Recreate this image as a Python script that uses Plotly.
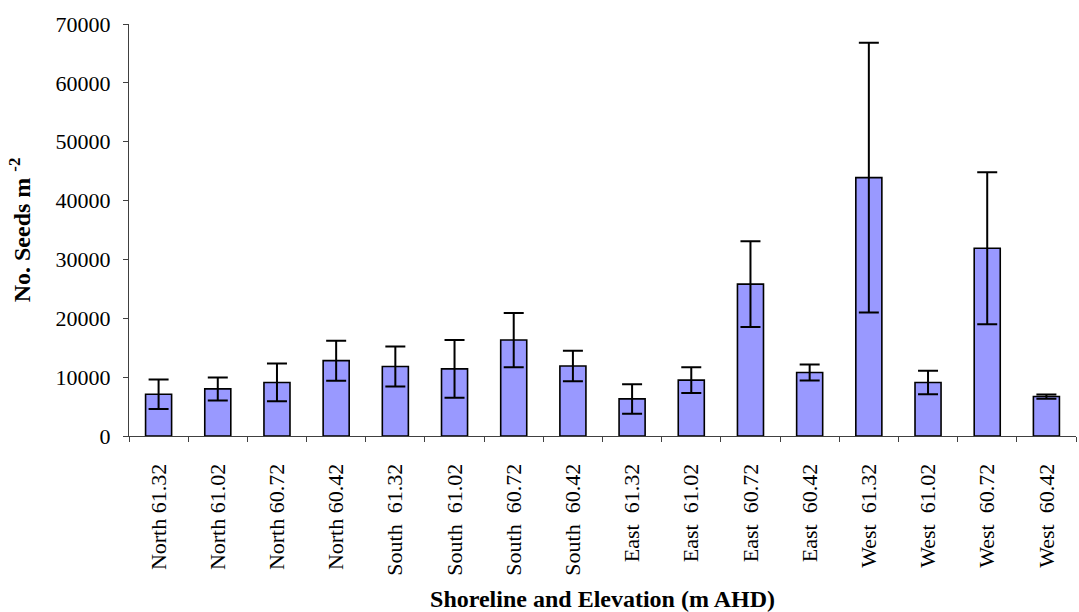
import plotly.graph_objects as go

# Seed density by shoreline and elevation (mean ± error)
categories = [
    "North 61.32", "North 61.02", "North 60.72", "North 60.42",
    "South  61.32", "South  61.02", "South  60.72", "South  60.42",
    "East  61.32", "East  61.02", "East  60.72", "East  60.42",
    "West  61.32", "West  61.02", "West  60.72", "West  60.42",
]
seeds_mean = [7100, 8000, 9100, 12800, 11800, 11400, 16300, 11900,
              6300, 9500, 25800, 10800, 43900, 9100, 31900, 6700]
seeds_err = [2500, 1950, 3200, 3400, 3400, 4900, 4600, 2600,
             2500, 2200, 7300, 1350, 22900, 2000, 12900, 350]
y_ticks = [0, 10000, 20000, 30000, 40000, 50000, 60000, 70000]

# keep the double spacing of the labels visible in SVG text
tick_text = [c.replace("  ", " \u00a0") for c in categories]

FONT = "Liberation Serif, Times New Roman, serif"

fig = go.Figure(
    go.Bar(
        x=categories,
        y=seeds_mean,
        marker=dict(color="#9999FF", line=dict(color="#000000", width=1.6)),
        error_y=dict(type="data", array=seeds_err, visible=True,
                     color="#000000", thickness=2, width=10),
    )
)

fig.update_layout(
    width=1079, height=612,
    margin=dict(l=129, r=3, t=24, b=176),
    paper_bgcolor="white", plot_bgcolor="white",
    font=dict(family=FONT, size=22, color="#000000"),
    bargap=0.56,
    showlegend=False,
)

fig.update_xaxes(
    type="category",
    tickvals=categories, ticktext=tick_text,
    tickangle=-90,
    tickson="boundaries",
    ticks="outside", ticklen=5, tickcolor="#404040",
    showline=True, linecolor="#404040", linewidth=1,
    showgrid=False, zeroline=False,
    tickfont=dict(family=FONT, size=22),
    ticklabelstandoff=18,
    automargin=False,
    title=dict(text="<b>Shoreline and Elevation (m AHD)</b>",
               font=dict(family=FONT, size=24), standoff=20),
)

fig.update_yaxes(
    range=[0, 70000],
    tickvals=y_ticks, ticktext=[str(v) for v in y_ticks],
    ticks="outside", ticklen=5, tickcolor="#404040",
    showline=True, linecolor="#404040", linewidth=1,
    showgrid=False, zeroline=False,
    tickfont=dict(family=FONT, size=22),
    ticklabelstandoff=8,
    automargin=False,
    title=dict(text="<b>No. Seeds m <sup>-2</sup></b>",
               font=dict(family=FONT, size=24), standoff=18),
)

fig.write_html("out.html")
